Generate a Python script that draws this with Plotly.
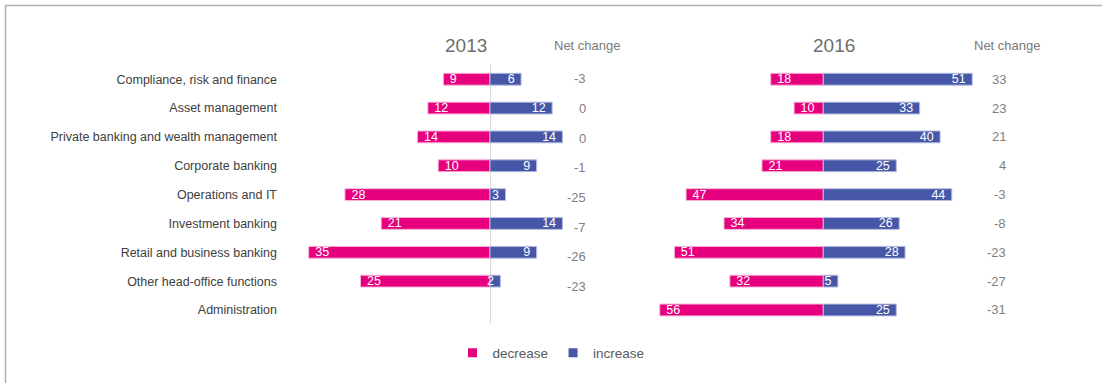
import plotly.graph_objects as go

# Workforce change by function, headcount moving in each direction
categories = [
    "Compliance, risk and finance",
    "Asset management",
    "Private banking and wealth management",
    "Corporate banking",
    "Operations and IT",
    "Investment banking",
    "Retail and business banking",
    "Other head-office functions",
    "Administration",
]
decrease_2013 = [9, 12, 14, 10, 28, 21, 35, 25, None]
increase_2013 = [6, 12, 14, 9, 3, 14, 9, 2, None]
net_2013 = [-3, 0, 0, -1, -25, -7, -26, -23, None]

decrease_2016 = [18, 10, 18, 21, 47, 34, 51, 32, 56]
increase_2016 = [51, 33, 40, 25, 44, 26, 28, 5, 25]
net_2016 = [33, 23, 21, 4, -3, -8, -23, -27, -31]

years = ["2013", "2016"]
net_title = "Net change"
series_names = ["decrease", "increase"]

W, H = 1102, 383
MAGENTA = "#E6007E"
BLUE = "#4757A7"
FONT = "Liberation Sans, Arial, sans-serif"
CLEAR = "rgba(0,0,0,0)"
NBSP = "\u00a0"


def px(p):
    return p / W


def py(p):
    return 1 - p / H


def neg(vals):
    return [-v if v is not None else None for v in vals]


def labels(vals):
    return [str(v) if v is not None else "" for v in vals]


fig = go.Figure()

bar_text = dict(
    textposition="inside", insidetextanchor="end",
    textangle=0, constraintext="none",
    textfont=dict(color="white", size=12.5, family=FONT),
    width=0.41, showlegend=False, hoverinfo="skip",
)

panels = [
    ("x", decrease_2013, increase_2013),
    ("x2", decrease_2016, increase_2016),
]
for xa, dec, inc in panels:
    fig.add_trace(go.Bar(
        y=categories, x=neg(dec), orientation="h", xaxis=xa, yaxis="y",
        marker=dict(color=MAGENTA, line=dict(color="#F7B3D6", width=1)),
        text=labels(dec), texttemplate=NBSP + "%{text}", **bar_text,
    ))
    fig.add_trace(go.Bar(
        y=categories, x=inc, orientation="h", xaxis=xa, yaxis="y",
        marker=dict(color=BLUE, line=dict(color="#B5BCE0", width=1)),
        text=labels(inc), texttemplate="%{text}" + NBSP, **bar_text,
    ))

# legend entries with small square swatches
for name, col in zip(series_names, [MAGENTA, BLUE]):
    fig.add_trace(go.Scatter(
        x=[None], y=[None], mode="markers", name=name,
        marker=dict(symbol="square", size=9, color=col),
    ))

# pixel geometry of the two panels
zero13, scale13 = 490.0, 5.18
zero16, scale16 = 823.3, 2.92
dom13 = (278.0, 600.0)
dom16 = (640.0, 990.0)

row_top, row_bot = 64.8, 324.4

fig.update_layout(
    width=W, height=H,
    margin=dict(l=0, r=0, t=0, b=0),
    paper_bgcolor="white", plot_bgcolor=CLEAR,
    barmode="relative",
    font=dict(family=FONT, color="#404040"),
    uniformtext=dict(mode="show", minsize=12.5),
    xaxis=dict(
        domain=[px(dom13[0]), px(dom13[1])],
        range=[-(zero13 - dom13[0]) / scale13, (dom13[1] - zero13) / scale13],
        showgrid=False, showticklabels=False, ticks="",
        zeroline=True, zerolinecolor="#D9D9D9", zerolinewidth=1,
        anchor="y", fixedrange=True,
    ),
    xaxis2=dict(
        domain=[px(dom16[0]), px(dom16[1])],
        range=[-(zero16 - dom16[0]) / scale16, (dom16[1] - zero16) / scale16],
        showgrid=False, showticklabels=False, ticks="",
        zeroline=False, anchor="y", fixedrange=True,
    ),
    yaxis=dict(
        domain=[py(row_bot), py(row_top)],
        type="category", categoryorder="array", categoryarray=categories,
        autorange="reversed", showgrid=False, zeroline=False,
        ticks="", showline=False,
        tickfont=dict(size=12.5, color="#404040", family=FONT),
        anchor="x", fixedrange=True,
    ),
    xaxis3=dict(domain=[px(540), px(600)], range=[0, 1], visible=False,
                anchor="y3", fixedrange=True),
    yaxis3=dict(
        domain=[py(330.6), py(64.2)], range=[8.5, -0.5],
        visible=False, anchor="x3", fixedrange=True,
    ),
    legend=dict(
        orientation="h", x=px(551), xanchor="center", y=py(353), yanchor="middle",
        font=dict(size=13.5, color="#595959", family=FONT),
        itemwidth=30, tracegroupgap=0, bgcolor=CLEAR,
    ),
)

annotations = []
# panel headers
for year, cx, ncx in zip(years, [466, 834], [587, 1007]):
    annotations.append(dict(
        text=year, x=px(cx), y=py(45), xref="paper", yref="paper",
        xanchor="center", yanchor="middle", showarrow=False,
        font=dict(size=19, color="#6E6E6E", family=FONT),
    ))
    annotations.append(dict(
        text=net_title, x=px(ncx), y=py(45), xref="paper", yref="paper",
        xanchor="center", yanchor="middle", showarrow=False,
        font=dict(size=13, color="#7A7A7A", family=FONT),
    ))

# net change columns
for i, v in enumerate(net_2013):
    if v is None:
        continue
    annotations.append(dict(
        text=str(v), x=px(588), y=i, xref="paper", yref="y3",
        xanchor="right", yanchor="middle", showarrow=False,
        font=dict(size=13, color="#7F7F7F", family=FONT),
    ))
for cat, v in zip(categories, net_2016):
    annotations.append(dict(
        text=str(v), x=px(1008), y=cat, xref="paper", yref="y",
        xanchor="right", yanchor="middle", showarrow=False,
        font=dict(size=13, color="#7F7F7F", family=FONT),
    ))

fig.update_layout(annotations=annotations)

# outer frame, open at the right and bottom edges
fig.add_shape(
    type="rect", xref="paper", yref="paper",
    x0=px(5.5), y0=-0.05, x1=1.05, y1=py(5.5),
    line=dict(color="#B0B0B0", width=1.5), fillcolor=CLEAR,
    layer="below",
)

fig.write_html("out.html")
